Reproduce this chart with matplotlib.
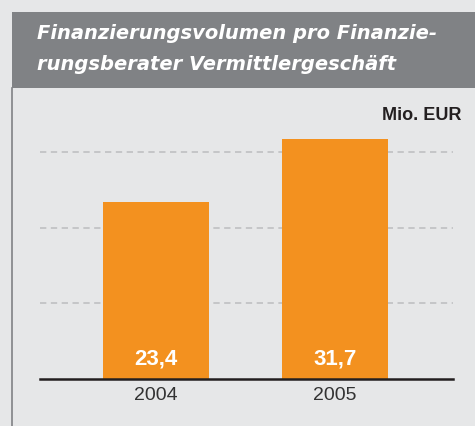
import matplotlib
matplotlib.use("Agg")
import matplotlib.pyplot as plt
from matplotlib.patches import Rectangle
from matplotlib.lines import Line2D

years = ["2004", "2005"]
values = [23.4, 31.7]
value_labels = ["23,4", "31,7"]
grid_values = [10, 20, 30]
title = "Finanzierungsvolumen pro Finanzie-\nrungsberater Vermittlergeschäft"
unit = "Mio. EUR"

BG = "#e6e7e8"
BAND = "#808285"
ORANGE = "#f3911f"
DARK = "#231f20"
FONT = ["Liberation Sans", "DejaVu Sans"]

W, H = 475, 426
fig = plt.figure(figsize=(W / 100, H / 100), dpi=100, facecolor=BG)

def fx(px):
    return px / W

def fy(py):
    return 1 - py / H

# title band
fig.patches.append(Rectangle((fx(12), fy(88)), fx(475) - fx(12), fy(12) - fy(88),
                             transform=fig.transFigure, facecolor=BAND, edgecolor="none"))
fig.text(fx(37), fy(49), title, color="white", fontsize=14.0, fontweight="bold",
         fontstyle="italic", family=["DejaVu Sans"], va="center", ha="left",
         linespacing=1.75)
# left vertical rule
fig.lines.append(Line2D([fx(12), fx(12)], [fy(88), 0], transform=fig.transFigure,
                        color=BAND, linewidth=1.2))

ax_l, ax_r, ax_b, ax_t = 40, 453, 379, 110
scale = 7.56
ax = fig.add_axes([fx(ax_l), fy(ax_b), fx(ax_r) - fx(ax_l), fy(ax_t) - fy(ax_b)])
ax.set_facecolor(BG)
x = list(range(len(years)))
ax.bar(x, values, width=0.59, color=ORANGE, zorder=2)
for v in grid_values:
    ax.axhline(v, color="#c2c3c5", linewidth=1.3, linestyle=(0, (3.5, 2.5)), zorder=1)
ax.axhline(0, color=DARK, linewidth=1.8, zorder=3, clip_on=False)
ax.set_xlim(-0.648, 1.659)
ax.set_ylim(0, (ax_b - ax_t) / scale)
for s in ax.spines.values():
    s.set_visible(False)
ax.set_yticks([])
ax.set_xticks(x)
ax.set_xticklabels(years, family=FONT, fontsize=14, color="#333333")
ax.tick_params(axis="x", length=0, pad=6)
for xi, lab in zip(x, value_labels):
    ax.text(xi, 2.6, lab, ha="center", va="center", color="white", fontsize=16,
            fontweight="bold", family=FONT, zorder=4)

fig.text(fx(461), fy(115), unit, ha="right", va="center", color=DARK, fontsize=13,
         fontweight="bold", family=FONT)

fig.savefig("out.png", dpi=100, facecolor=BG)
